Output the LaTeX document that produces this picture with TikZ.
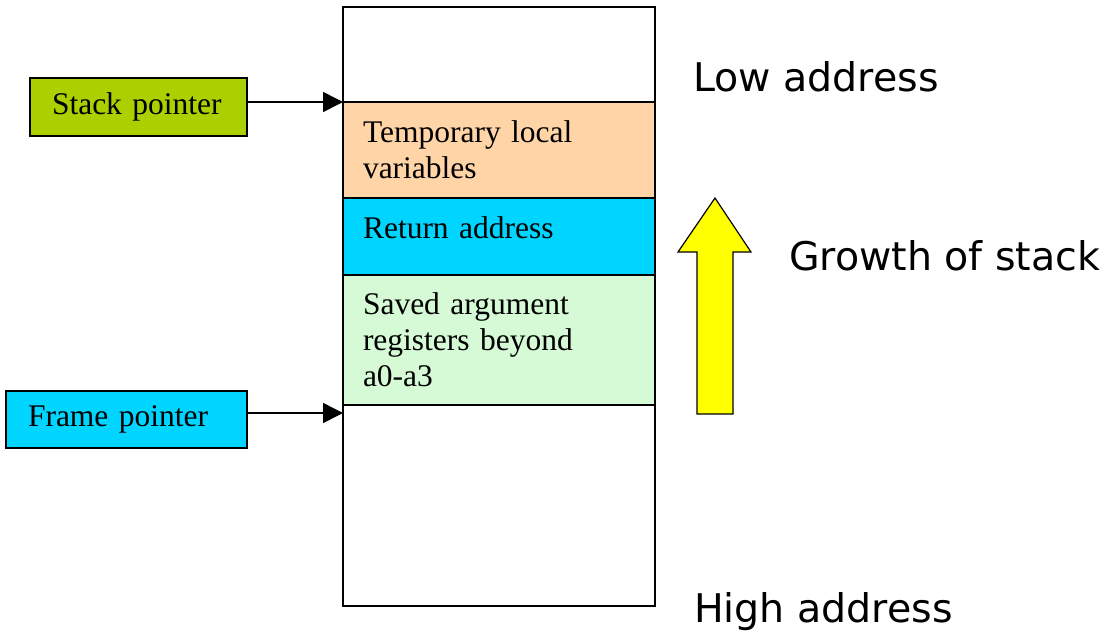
\documentclass[tikz,border=0pt]{standalone}
\usepackage{fontspec}
\setmainfont{Liberation Serif}
\newfontfamily\comicfont{DejaVu Sans}
\usetikzlibrary{positioning,arrows.meta}

\definecolor{spgreen}{RGB}{170,208,0}
\definecolor{fpcyan}{RGB}{0,213,255}
\definecolor{peach}{RGB}{255,213,168}
\definecolor{mint}{RGB}{213,250,213}
\definecolor{arrowyellow}{RGB}{255,255,0}

\begin{document}
\begin{tikzpicture}[x=1pt, y=-1pt, line width=1.6pt,
    every node/.style={font=\fontsize{31.5}{36}\selectfont},
    cell/.style={draw, minimum width=312pt, text width=272pt, inner xsep=20pt,
        inner ysep=0pt, outer sep=0pt, align=left},
    pointer/.style={draw, inner xsep=22pt, inner ysep=0pt, align=left},
    bigtext/.style={font=\comicfont\fontsize{39.5}{44}\selectfont, anchor=base west},
    link/.style={-{Triangle[length=20pt,width=20pt]}}]

\useasboundingbox (0,0) rectangle (1120,641);

% the stack, from the top down
\node[cell, anchor=north west, minimum height=95pt] (top) at (343,7) {};
\node[cell, fill=peach, minimum height=96pt, below=0pt of top] (temps)
    {Temporary local\\variables};
\node[cell, fill=fpcyan, minimum height=77pt, text depth=18pt, below=0pt of temps] (ret)
    {Return address};
\node[cell, fill=mint, minimum height=130pt, below=0pt of ret] (saved)
    {Saved argument\\registers beyond\\a0-a3};
\node[cell, minimum height=201pt, below=0pt of saved] (bottom) {};

% pointers
\node[pointer, fill=spgreen, text width=173pt, minimum height=58pt] (sp) at (138.5,107)
    {Stack pointer};
\node[pointer, fill=fpcyan, text width=197pt, minimum height=57pt] (fp) at (126.5,419.5)
    {Frame pointer};

\coordinate (sptip) at (343,102);
\coordinate (fptip) at (343,413);
\draw[link] (sp.east |- sptip) -- (sptip);
\draw[link] (fp.east |- fptip) -- (fptip);

% growth arrow
\draw[fill=arrowyellow, line width=1.2pt] (697,414) -- (697,252) -- (678,252) -- (715,198)
    -- (751,252) -- (733,252) -- (733,414) -- cycle;

\node[bigtext] (low) at (689,91) {Low address};
\node[bigtext] (growth) at (785,270) {Growth of stack};
\node[bigtext] (high) at (690,622) {High address};

\end{tikzpicture}
\end{document}
